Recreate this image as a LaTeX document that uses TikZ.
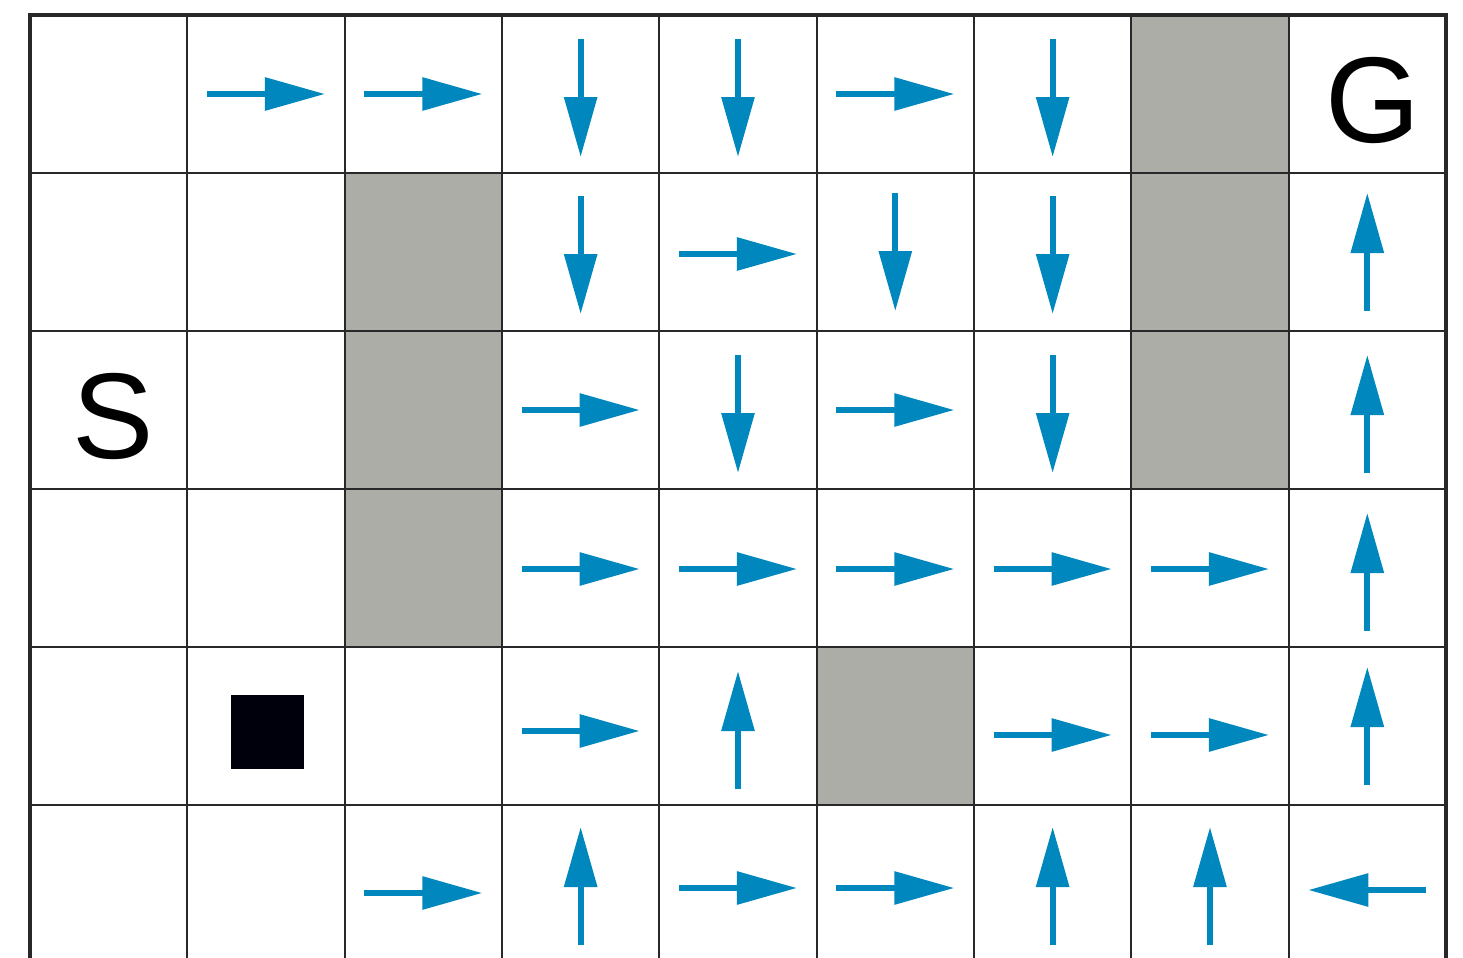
\documentclass[tikz,border=0pt]{standalone}
\usepackage{fontspec}
\setmainfont{Liberation Sans}
\usetikzlibrary{arrows.meta}
\definecolor{arrowblue}{RGB}{0,136,190}
\definecolor{wallgray}{RGB}{173,173,167}
\definecolor{gridline}{RGB}{40,40,42}
\tikzset{
  pol/.style={draw=arrowblue, line width=3pt, -{Triangle[length=30pt,width=16pt,fill=arrowblue]}},
  gridthin/.style={draw=gridline, line width=1pt},
  gridthick/.style={draw=gridline, line width=1.6pt},
  wall/.style={fill=wallgray},
  letter/.style={inner sep=0pt, font=\fontsize{61}{61}\selectfont, text=black}
}
\begin{document}
\begin{tikzpicture}[x=0.5pt,y=-0.5pt]
\useasboundingbox (0,0) rectangle (1463,958);
\clip (0,0) rectangle (1463,958);
\def\cw{157.33}
\def\rh{158}
% walls
\foreach \r/\c in {1/2,2/2,3/2,0/7,1/7,2/7,4/5}{
  \fill[wall] ({30+\c*\cw},{15+\r*\rh}) rectangle ({30+(\c+1)*\cw},{15+(\r+1)*\rh});
}
% grid
\foreach \c in {1,...,8}{
  \draw[gridthin] ({30+\c*\cw},15) -- ({30+\c*\cw},970);
}
\foreach \r in {1,...,5}{
  \draw[gridthin] (30,{15+\r*\rh}) -- (1446,{15+\r*\rh});
}
\draw[gridthick] (30,970) -- (30,15) -- (1446,15) -- (1446,970);
% arrows: row/col/dx/dy/yoffset
\foreach \r/\c/\dx/\dy/\oy in {
  0/1/1/0/0, 0/2/1/0/0, 0/3/0/1/4, 0/4/0/1/4, 0/5/1/0/0, 0/6/0/1/4,
  1/3/0/1/3, 1/4/1/0/2, 1/5/0/1/0, 1/6/0/1/3, 1/8/0/-1/0,
  2/3/1/0/0, 2/4/0/1/4, 2/5/1/0/0, 2/6/0/1/4, 2/8/0/-1/4,
  3/3/1/0/1, 3/4/1/0/1, 3/5/1/0/1, 3/6/1/0/1, 3/7/1/0/1, 3/8/0/-1/4,
  4/3/1/0/5, 4/4/0/-1/4, 4/6/1/0/9, 4/7/1/0/9, 4/8/0/-1/0,
  5/2/1/0/9, 5/3/0/-1/2, 5/4/1/0/4, 5/5/1/0/4, 5/6/0/-1/2, 5/7/0/-1/2, 5/8/-1/0/6}{
  \pgfmathsetmacro{\cx}{30+(\c+0.5)*\cw}
  \pgfmathsetmacro{\cy}{15+(\r+0.5)*\rh+\oy}
  \draw[pol] ({\cx-59*\dx},{\cy-59*\dy}) -- ({\cx+59*\dx},{\cy+59*\dy});
}
% agent
\fill[black!95!blue] (231,695) rectangle (304,769);
% labels
\node[letter] (S) at (113,416) {S};
\node[letter] (G) at (1373,101) {G};
\end{tikzpicture}
\end{document}
